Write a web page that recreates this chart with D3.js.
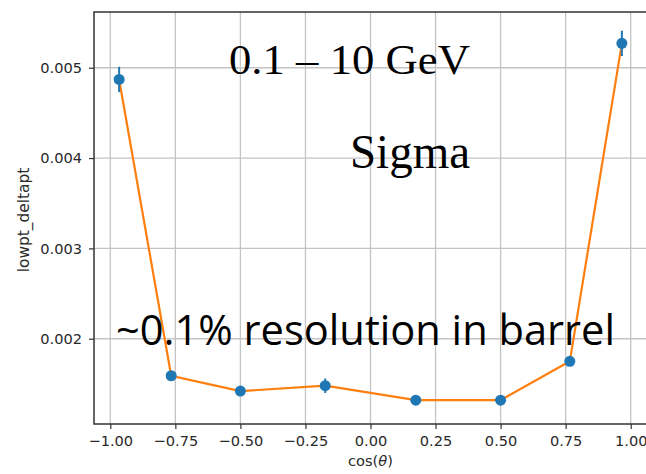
<!DOCTYPE html>
<html>
<head>
<meta charset="utf-8">
<script src="https://cdn.jsdelivr.net/npm/d3@7"></script>
<style>
  body { margin: 0; background: #fff; }
  svg { display: block; }
</style>
</head>
<body>
<div id="chart"></div>
<script>
// Data (bin centres in cos(theta), sigma of delta pt)
const COS_THETA = [-0.966, -0.766, -0.5, -0.174, 0.174, 0.5, 0.766, 0.966];
const SIGMA = [0.00487, 0.00159, 0.00142, 0.00148, 0.00132, 0.00132, 0.00175, 0.00527];
const SIGMA_ERR = [0.00014, 0.00002, 0.00002, 0.00008, 0.00002, 0.00002, 0.00002, 0.00014];
const X_TICKS = [-1, -0.75, -0.5, -0.25, 0, 0.25, 0.5, 0.75, 1];
const Y_TICKS = [0.002, 0.003, 0.004, 0.005];
const X_DOMAIN = [-1.0626, 1.0626];
const Y_DOMAIN = [0.001056, 0.005617];

const WIDTH = 646, HEIGHT = 474;
const PLOT = { left: 94, top: 12, bottom: 424, right: 647 };

const points = COS_THETA.map((c, i) => ({ x: c, y: SIGMA[i], err: SIGMA_ERR[i] }));

const svg = d3.select('#chart').append('svg')
    .attr('width', WIDTH)
    .attr('height', HEIGHT);

const x = d3.scaleLinear().domain(X_DOMAIN).range([PLOT.left, PLOT.right]);
const y = d3.scaleLinear().domain(Y_DOMAIN).range([PLOT.bottom, PLOT.top]);

// grid
svg.append('g').selectAll('line').data(X_TICKS).join('line')
    .attr('x1', d => x(d)).attr('x2', d => x(d))
    .attr('y1', PLOT.top).attr('y2', PLOT.bottom)
    .attr('stroke', '#c4c4c4').attr('stroke-width', 1.3);
svg.append('g').selectAll('line').data(Y_TICKS).join('line')
    .attr('x1', PLOT.left).attr('x2', PLOT.right)
    .attr('y1', d => y(d)).attr('y2', d => y(d))
    .attr('stroke', '#c4c4c4').attr('stroke-width', 1.3);

// axes
const xAxis = svg.append('g')
    .attr('transform', `translate(0, ${PLOT.bottom})`)
    .call(d3.axisBottom(x).tickValues(X_TICKS).tickFormat(d3.format('.2f')).tickSize(5).tickPadding(7));
const yAxis = svg.append('g')
    .attr('transform', `translate(${PLOT.left}, 0)`)
    .call(d3.axisLeft(y).tickValues(Y_TICKS).tickFormat(d3.format('.3f')).tickSize(5).tickPadding(7));

[xAxis, yAxis].forEach(a => {
  a.select('.domain').remove();
  a.selectAll('line').attr('stroke', '#333').attr('stroke-width', 1.2);
  a.selectAll('text')
      .attr('fill', '#2a2a2a')
      .style('font-family', 'DejaVu Sans')
      .style('font-size', '14.6px');
});

// spines (right one falls off the picture)
svg.append('path')
    .attr('d', `M${PLOT.right},${PLOT.top}H${PLOT.left}V${PLOT.bottom}H${PLOT.right}`)
    .attr('fill', 'none')
    .attr('stroke', '#333')
    .attr('stroke-width', 1.5);

// axis labels
svg.append('text')
    .attr('x', x(0)).attr('y', 466)
    .attr('text-anchor', 'middle')
    .attr('fill', '#2a2a2a')
    .style('font-family', 'DejaVu Sans').style('font-size', '14.6px')
    .html('cos(<tspan font-style="italic">θ</tspan>)');

svg.append('text')
    .attr('transform', `translate(29, ${(PLOT.top + PLOT.bottom) / 2 + 2}) rotate(-90)`)
    .attr('text-anchor', 'middle')
    .attr('fill', '#2a2a2a')
    .style('font-family', 'DejaVu Sans').style('font-size', '15.4px')
    .text('lowpt_deltapt');

// line through the points
svg.append('path')
    .datum(points)
    .attr('fill', 'none')
    .attr('stroke', '#ff7f0e')
    .attr('stroke-width', 2.2)
    .attr('d', d3.line().x(d => x(d.x)).y(d => y(d.y)));

// error bars
svg.append('g').selectAll('line').data(points).join('line')
    .attr('x1', d => x(d.x)).attr('x2', d => x(d.x))
    .attr('y1', d => y(d.y - d.err)).attr('y2', d => y(d.y + d.err))
    .attr('stroke', '#1f77b4').attr('stroke-width', 2);

// markers
svg.append('g').selectAll('circle').data(points).join('circle')
    .attr('cx', d => x(d.x)).attr('cy', d => y(d.y))
    .attr('r', 5.5)
    .attr('fill', '#1f77b4');

// slide annotations
function note(txt, px, py, font, size, width) {
  svg.append('text')
      .attr('x', px).attr('y', py)
      .attr('textLength', width)
      .attr('lengthAdjust', 'spacingAndGlyphs')
      .attr('fill', '#000')
      .style('font-family', font)
      .style('font-size', size + 'px')
      .text(txt);
}
note('0.1 \u2013 10 GeV', 229, 74, '"Liberation Serif", serif', 43, 241);
note('Sigma', 350, 168, '"Liberation Serif", serif', 49, 120);
note('~0.1% resolution in barrel', 116, 345, '"Open Sans", sans-serif', 42, 499);
</script>
</body>
</html>
